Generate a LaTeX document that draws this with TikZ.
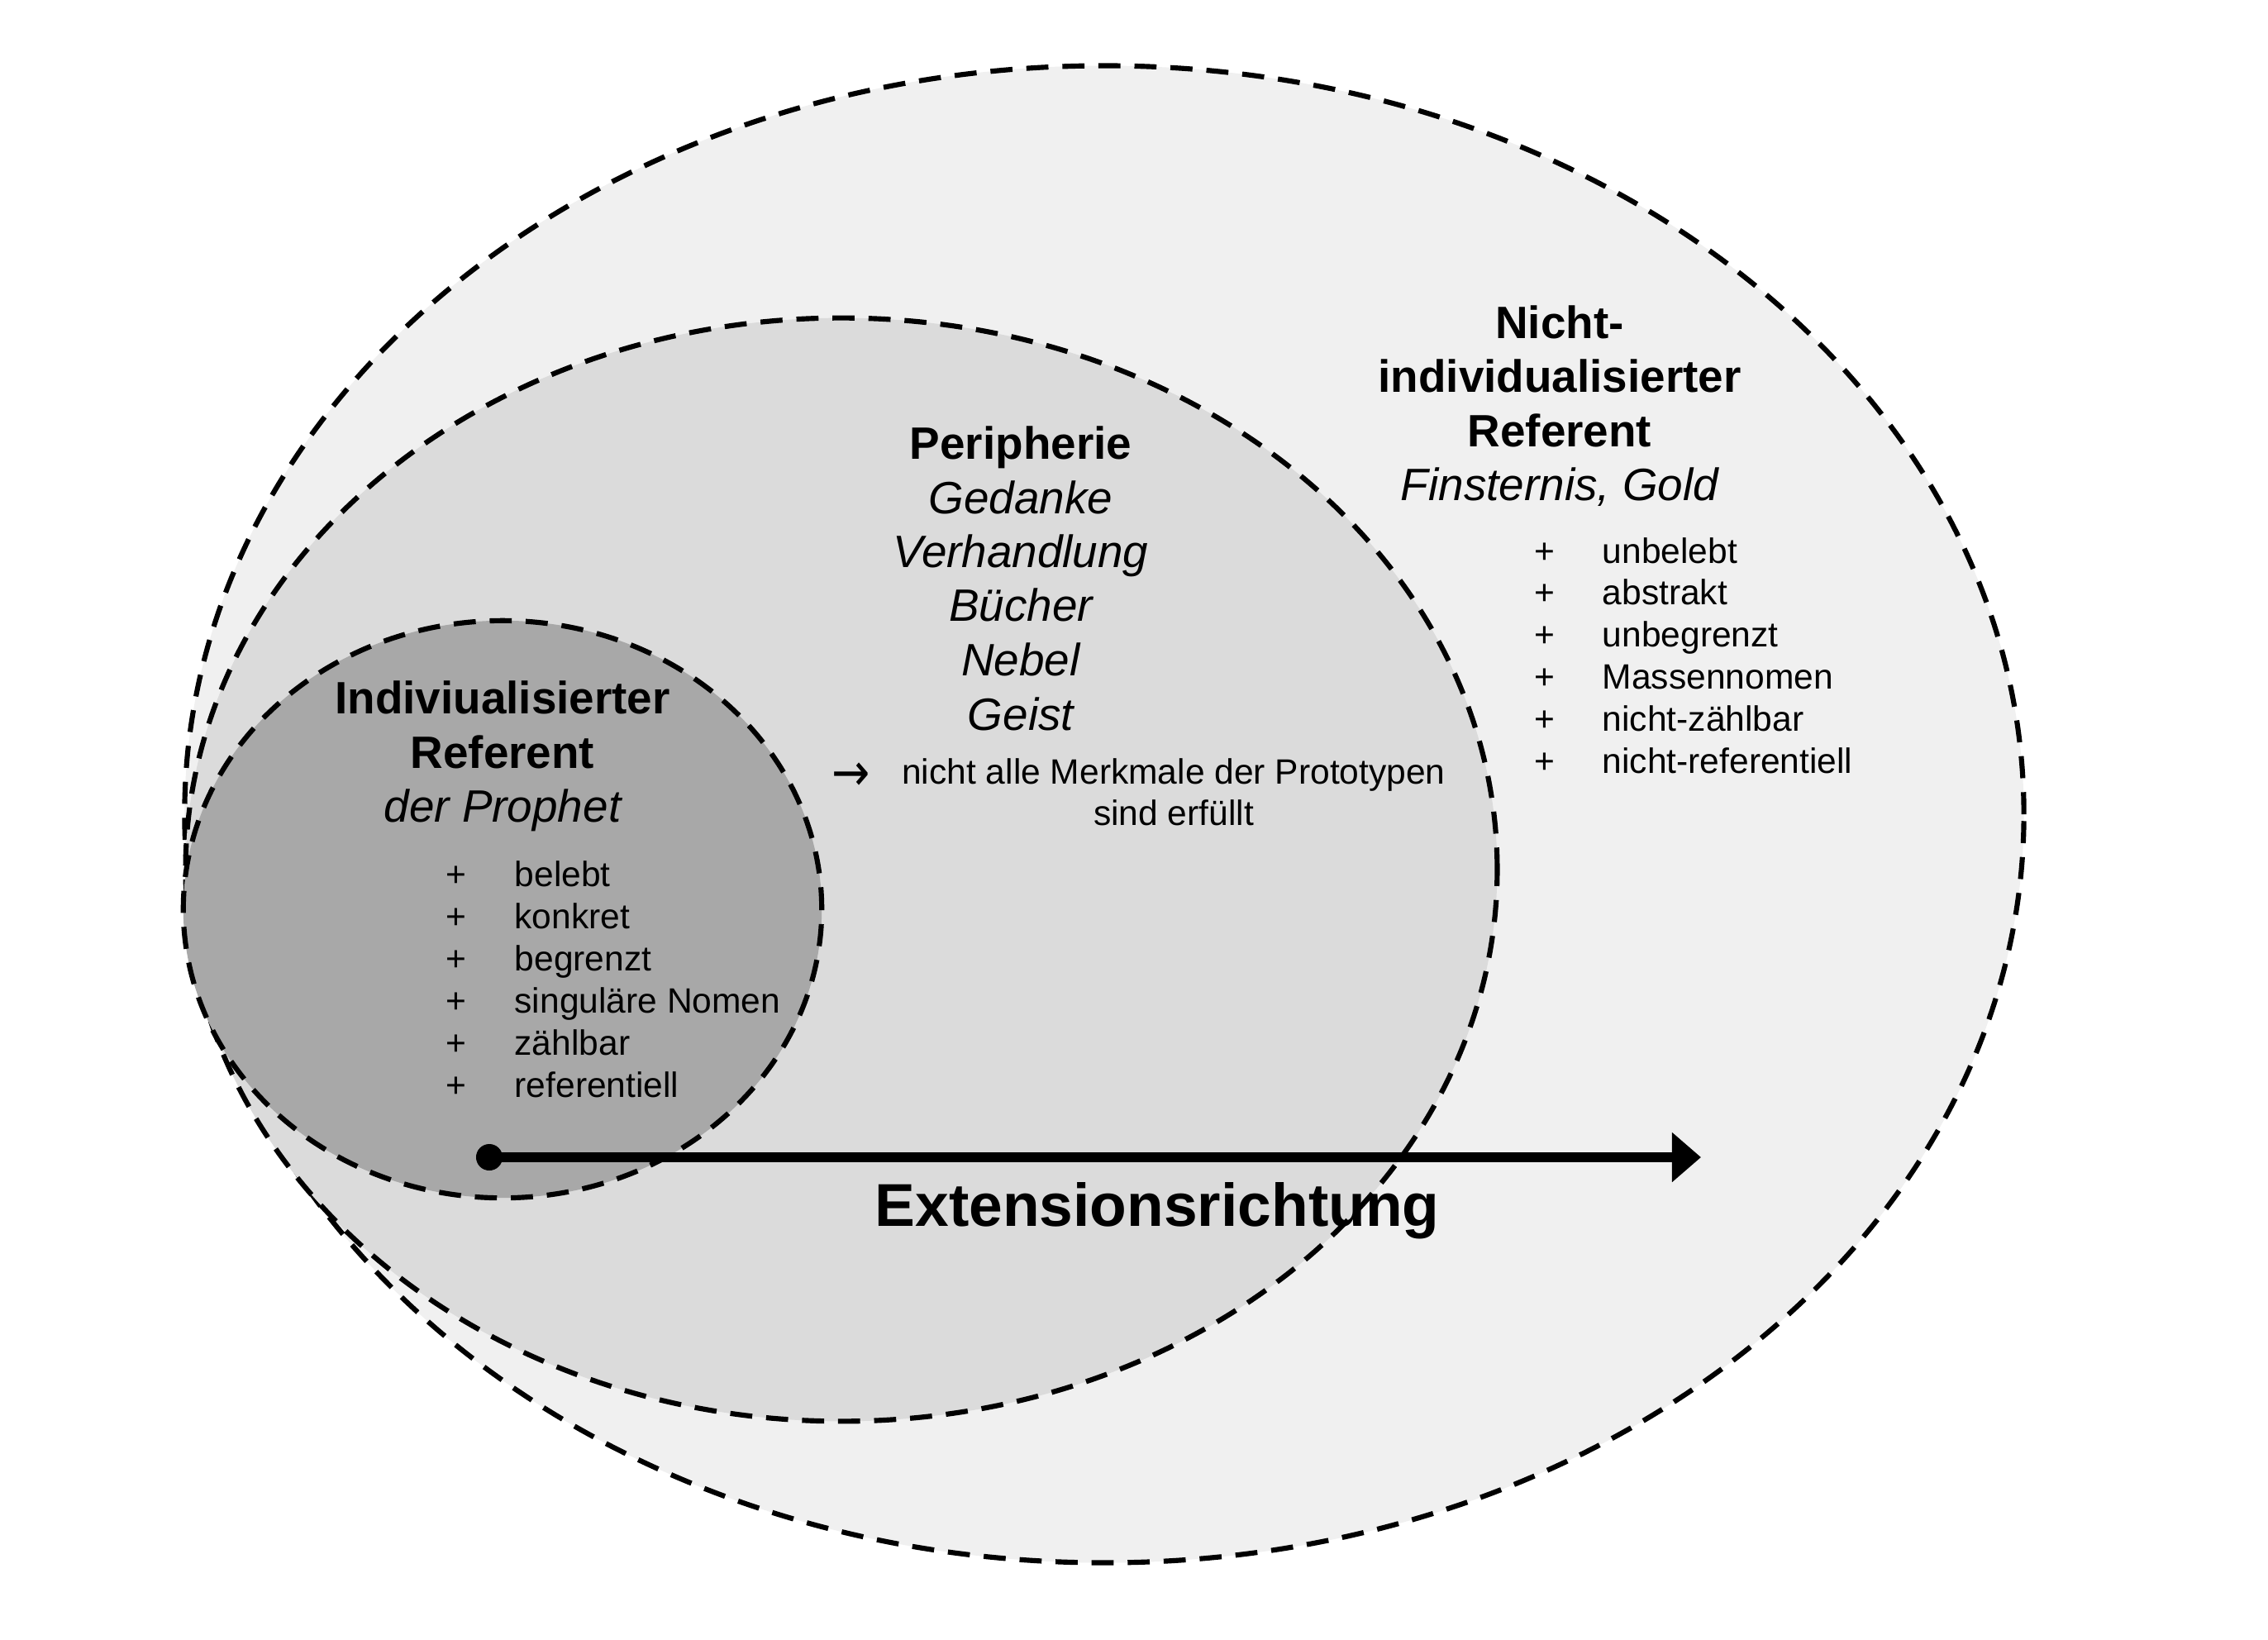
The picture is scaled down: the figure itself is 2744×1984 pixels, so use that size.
\documentclass[tikz,border=0pt]{standalone}
\usepackage{fontspec}
\setmainfont{Liberation Sans}
\newfontfamily\symfont{DejaVu Sans}
\usetikzlibrary{arrows.meta}
\definecolor{outerfill}{gray}{0.94}
\definecolor{midfill}{gray}{0.86}
\definecolor{innerfill}{gray}{0.66}
\begin{document}
\begin{tikzpicture}[x=0.01cm,y=-0.01cm,
  region/.style={draw=black, line width=1.75pt, dash pattern=on 7.6pt off 4.8pt},
  ttl/.style={anchor=base, inner sep=0pt, font=\fontsize{15.6}{18.7}\selectfont\bfseries},
  exm/.style={anchor=base, inner sep=0pt, font=\fontsize{15.6}{18.7}\selectfont\itshape},
  lst/.style={anchor=base west, inner sep=0pt, font=\fontsize{12.1}{14.5}\selectfont},
  pls/.style={anchor=base, inner sep=0pt, font=\fontsize{12.1}{14.5}\selectfont},
]
\useasboundingbox[fill=white] (0,0) rectangle (2744,1984);
% regions
\path[region, fill=outerfill] (1336,985) ellipse [x radius=11.12cm, y radius=9.05cm];
\path[region, fill=midfill] (1018,1052) ellipse [x radius=7.93cm, y radius=6.67cm];
\path[region, fill=innerfill] (608,1100) ellipse [x radius=3.86cm, y radius=3.49cm];
% inner title
\node[ttl] (it1) at (608,863) {Indiviualisierter};
\node[ttl] (it2) at (608,929) {Referent};
\node[exm] (it3) at (608,994) {der Prophet};
% inner list
\foreach \i/\t in {0/belebt,1/konkret,2/begrenzt,3/singuläre Nomen,4/zählbar,5/referentiell}{
  \node[pls] (ip\i) at (552,1072+51*\i) {+};
  \node[lst] (il\i) at (622,1072+51*\i) {\t};
}
% periphery
\node[ttl] (p1) at (1235,555) {Peripherie};
\node[exm] (p2) at (1235,621) {Gedanke};
\node[exm] (p3) at (1235,686) {Verhandlung};
\node[exm] (p4) at (1235,751) {Bücher};
\node[exm] (p5) at (1235,817) {Nebel};
\node[exm] (p6) at (1235,883) {Geist};
\node[anchor=center, inner sep=0pt, font=\fontsize{12.1}{14.5}\selectfont\symfont] (parr) at (1030,940) {\scalebox{1.3}[1.5]{→}};
\node[anchor=base, inner sep=0pt, font=\fontsize{12.1}{14.5}\selectfont] (pn1) at (1420,948) {nicht alle Merkmale der Prototypen};
\node[anchor=base, inner sep=0pt, font=\fontsize{12.1}{14.5}\selectfont] (pn2) at (1420,998) {sind erfüllt};
% outer title
\node[ttl] (o1) at (1887,409) {Nicht-};
\node[ttl] (o2) at (1887,474) {individualisierter};
\node[ttl] (o3) at (1887,540) {Referent};
\node[exm] (o4) at (1887,605) {Finsternis, Gold};
\foreach \i/\t in {0/unbelebt,1/abstrakt,2/unbegrenzt,3/Massennomen,4/nicht-zählbar,5/nicht-referentiell}{
  \node[pls] (op\i) at (1869,681+50.8*\i) {+};
  \node[lst] (ol\i) at (1938,681+50.8*\i) {\t};
}
% extension arrow
\node[circle, fill=black, inner sep=0pt, minimum size=0.32cm] (start) at (592,1400) {};
\coordinate (end) at (2058,1400);
\draw[line width=3.4pt, -{Triangle[length=0.35cm, width=0.58cm]}] (start.center) -- (end);
\node[anchor=base, inner sep=0pt, font=\fontsize{20.8}{24}\selectfont\bfseries] (ext) at (1400,1483) {Extensionsrichtung};
\end{tikzpicture}
\end{document}
